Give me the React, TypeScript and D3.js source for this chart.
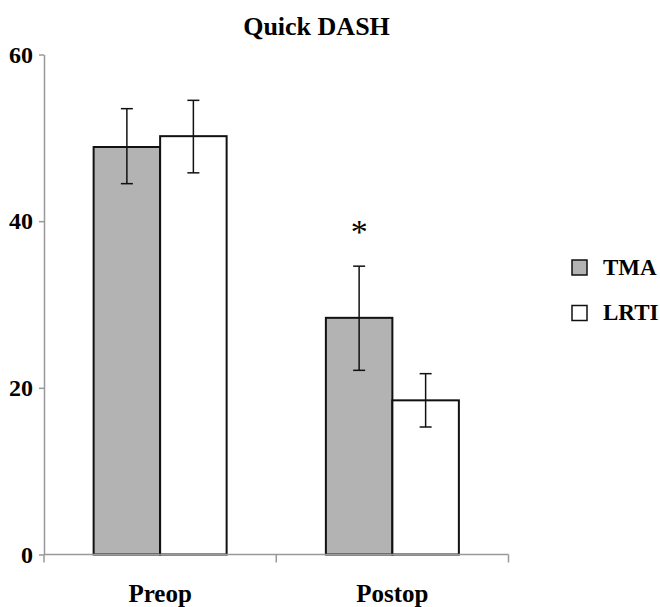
import React, { useEffect, useRef } from "react";
import * as d3 from "d3";

const WIDTH = 660;
const HEIGHT = 607;
const MARGIN = { top: 54.5, right: 151.5, bottom: 52.5, left: 44 };
const FONT = "'Liberation Serif', 'Times New Roman', Times, serif";

const categories = ["Preop", "Postop"];
const seriesNames = ["TMA", "LRTI"];
const seriesFill = ["#b3b3b3", "#ffffff"];
const tmaMeans = [48.9, 28.4];
const tmaErrLow = [44.5, 22.1];
const tmaErrHigh = [53.5, 34.6];
const lrtiMeans = [50.2, 18.5];
const lrtiErrLow = [45.8, 15.3];
const lrtiErrHigh = [54.5, 21.7];
const yTicks = [0, 20, 40, 60];
const significant = [false, true]; // asterisk over TMA bar

export default function App() {
  const svgRef = useRef<SVGSVGElement | null>(null);

  useEffect(() => {
    const svg = d3.select(svgRef.current);
    svg.selectAll("*").remove();

    const innerW = WIDTH - MARGIN.left - MARGIN.right;
    const innerH = HEIGHT - MARGIN.top - MARGIN.bottom;

    const rows = categories.map((c, i) => ({
      cat: c,
      values: [
        { s: 0, mean: tmaMeans[i], lo: tmaErrLow[i], hi: tmaErrHigh[i] },
        { s: 1, mean: lrtiMeans[i], lo: lrtiErrLow[i], hi: lrtiErrHigh[i] },
      ],
    }));

    const x0 = d3.scaleBand().domain(categories).range([0, innerW]);
    const x1 = d3
      .scaleBand<number>()
      .domain([0, 1])
      .range([x0.bandwidth() / 2 - 66.5, x0.bandwidth() / 2 + 66.5]);
    const y = d3.scaleLinear().domain([0, 60]).range([innerH, 0]);

    svg
      .append("text")
      .attr("x", 316.5)
      .attr("y", 35)
      .attr("text-anchor", "middle")
      .attr("font-family", FONT)
      .attr("font-weight", "bold")
      .attr("font-size", 26)
      .attr("fill", "#000")
      .text("Quick DASH");

    const g = svg
      .append("g")
      .attr("transform", `translate(${MARGIN.left},${MARGIN.top})`);

    // Y axis
    const yAxis = g
      .append("g")
      .call(d3.axisLeft(y).tickValues(yTicks).tickSize(5).tickSizeOuter(0).tickPadding(6));
    yAxis.select(".domain").attr("stroke", "#999").attr("stroke-width", 1.5);
    yAxis.selectAll("line").attr("stroke", "#999").attr("stroke-width", 1.5);
    yAxis
      .selectAll("text")
      .attr("font-family", FONT)
      .attr("font-weight", "bold")
      .attr("font-size", 24)
      .attr("fill", "#000");

    // Bars
    const groups = g
      .selectAll(".cat")
      .data(rows)
      .join("g")
      .attr("class", "cat")
      .attr("transform", (d) => `translate(${x0(d.cat)},0)`);

    groups
      .selectAll("rect")
      .data((d) => d.values)
      .join("rect")
      .attr("x", (d) => x1(d.s)!)
      .attr("width", x1.bandwidth())
      .attr("y", (d) => y(d.mean))
      .attr("height", (d) => y(0) - y(d.mean))
      .attr("fill", (d) => seriesFill[d.s])
      .attr("stroke", "#111")
      .attr("stroke-width", 2);

    // Error bars
    const err = groups
      .selectAll(".err")
      .data((d) => d.values)
      .join("g")
      .attr("class", "err")
      .attr("transform", (d) => `translate(${x1(d.s)! + x1.bandwidth() / 2},0)`);
    err
      .append("line")
      .attr("y1", (d) => y(d.lo))
      .attr("y2", (d) => y(d.hi))
      .attr("stroke", "#111")
      .attr("stroke-width", 1.5);
    err
      .selectAll(".cap")
      .data((d) => [d.lo, d.hi])
      .join("line")
      .attr("class", "cap")
      .attr("x1", -6)
      .attr("x2", 6)
      .attr("y1", (v) => y(v))
      .attr("y2", (v) => y(v))
      .attr("stroke", "#111")
      .attr("stroke-width", 1.5);

    // Significance marker
    g.selectAll(".sig")
      .data(rows.filter((_, i) => significant[i]))
      .join("text")
      .attr("class", "sig")
      .attr("x", (d) => x0(d.cat)! + x1(0)! + x1.bandwidth() / 2)
      .attr("y", (d) => y(d.values[0].hi) - 23)
      .attr("text-anchor", "middle")
      .attr("font-family", FONT)
      .attr("font-size", 34)
      .attr("fill", "#000")
      .text("*");

    // X axis
    const xAxis = g.append("g").attr("transform", `translate(0,${innerH})`);
    xAxis
      .append("line")
      .attr("x1", 0)
      .attr("x2", innerW)
      .attr("stroke", "#999")
      .attr("stroke-width", 1.5);
    xAxis
      .selectAll(".xtick")
      .data([0, ...categories.map((c) => x0(c)! + x0.bandwidth())])
      .join("line")
      .attr("class", "xtick")
      .attr("x1", (d) => d)
      .attr("x2", (d) => d)
      .attr("y1", 0)
      .attr("y2", 8)
      .attr("stroke", "#999")
      .attr("stroke-width", 1.5);
    xAxis
      .selectAll("text")
      .data(categories)
      .join("text")
      .attr("x", (c) => x0(c)! + x0.bandwidth() / 2)
      .attr("y", 47.5)
      .attr("text-anchor", "middle")
      .attr("font-family", FONT)
      .attr("font-weight", "bold")
      .attr("font-size", 25)
      .attr("fill", "#000")
      .text((c) => c);

    // Legend
    const legend = svg
      .append("g")
      .selectAll("g")
      .data(seriesNames)
      .join("g")
      .attr("transform", (_, i) => `translate(572,${260 + i * 45.5})`);
    legend
      .append("rect")
      .attr("width", 15)
      .attr("height", 15)
      .attr("fill", (_, i) => seriesFill[i])
      .attr("stroke", "#111")
      .attr("stroke-width", 1.5);
    legend
      .append("text")
      .attr("x", 31)
      .attr("y", 14.5)
      .attr("font-family", FONT)
      .attr("font-weight", "bold")
      .attr("font-size", 23)
      .attr("fill", "#000")
      .text((d) => d);
  }, []);

  return (
    <div style={{ position: "absolute", left: 0, top: 0 }}>
      <svg ref={svgRef} width={WIDTH} height={HEIGHT} style={{ display: "block" }} />
    </div>
  );
}
